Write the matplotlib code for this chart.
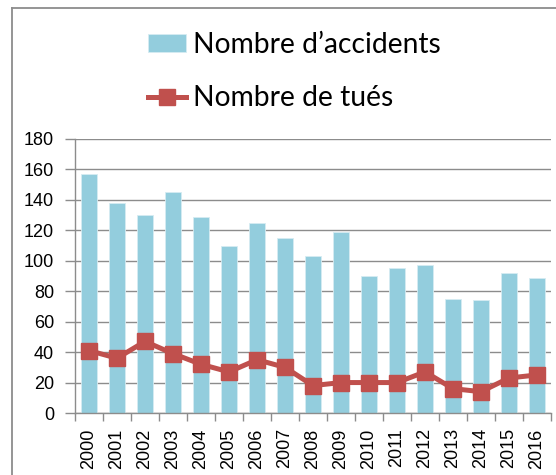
import matplotlib
matplotlib.use('Agg')
import matplotlib.pyplot as plt
from matplotlib.lines import Line2D
import numpy as np

# data
years = ['2000', '2001', '2002', '2003', '2004', '2005', '2006', '2007', '2008',
         '2009', '2010', '2011', '2012', '2013', '2014', '2015', '2016']
accidents = [157, 138, 130, 145, 129, 110, 125, 115, 103,
             119, 90, 95, 97, 75, 74, 92, 89]
tues = [41, 36, 47, 39, 32, 27, 35, 30, 18,
        20, 20, 20, 27, 16, 14, 23, 25]

bar_color = '#93CDDD'
line_color = '#C0504D'
grid_color = '#8C8C8C'

plt.rcParams['font.family'] = ['Liberation Sans', 'DejaVu Sans']

fig = plt.figure(figsize=(5.56, 4.75), dpi=100)
ax = fig.add_axes([75 / 556, 1 - 413 / 475, 476 / 556, 274 / 475])

x = np.arange(len(years))
b = ax.bar(x, accidents, width=0.6, color=bar_color, edgecolor='#D6ECF2',
           linewidth=0.6, zorder=2, label='Nombre d\u2019accidents')
l, = ax.plot(x, tues, color=line_color, linewidth=3.6, marker='s',
             markersize=11.5, zorder=3, label='Nombre de tués')

ax.set_xlim(-0.5, len(years) - 0.5)
ax.set_ylim(0, 180)
ax.set_yticks(range(0, 181, 20))
ax.set_xticks(x)
ax.set_xticklabels(years, rotation=90)
ax.yaxis.grid(True, color=grid_color, linewidth=1, zorder=0)
ax.set_axisbelow(True)

for s in ['top', 'right']:
    ax.spines[s].set_visible(False)
for s in ['left', 'bottom']:
    ax.spines[s].set_color(grid_color)
    ax.spines[s].set_linewidth(1)

# category separators on the x axis
ax.set_xticks(np.arange(-0.5, len(years), 1), minor=True)
ax.tick_params(axis='x', which='major', length=0, pad=11, labelsize=13)
ax.tick_params(axis='x', which='minor', length=6, color=grid_color, width=1)
ax.tick_params(axis='y', length=7, color=grid_color, width=1, pad=8,
               labelsize=13)

leg = fig.legend(handles=[b, l], loc='upper left',
                 bbox_to_anchor=(137 / 556, 1 - 21 / 475),
                 frameon=False, prop={'family': 'Lato', 'size': 20.3},
                 handlelength=1.35, handleheight=0.6, handletextpad=0.22,
                 labelspacing=0.95, borderaxespad=0)

# outer chart frame
fig.add_artist(Line2D([12 / 556, 12 / 556], [0, 1 - 7.5 / 475],
                      transform=fig.transFigure, color=grid_color, linewidth=1.3))
fig.add_artist(Line2D([12 / 556, 1], [1 - 7.5 / 475, 1 - 7.5 / 475],
                      transform=fig.transFigure, color=grid_color, linewidth=1.3))

fig.savefig('out.png', dpi=100)
